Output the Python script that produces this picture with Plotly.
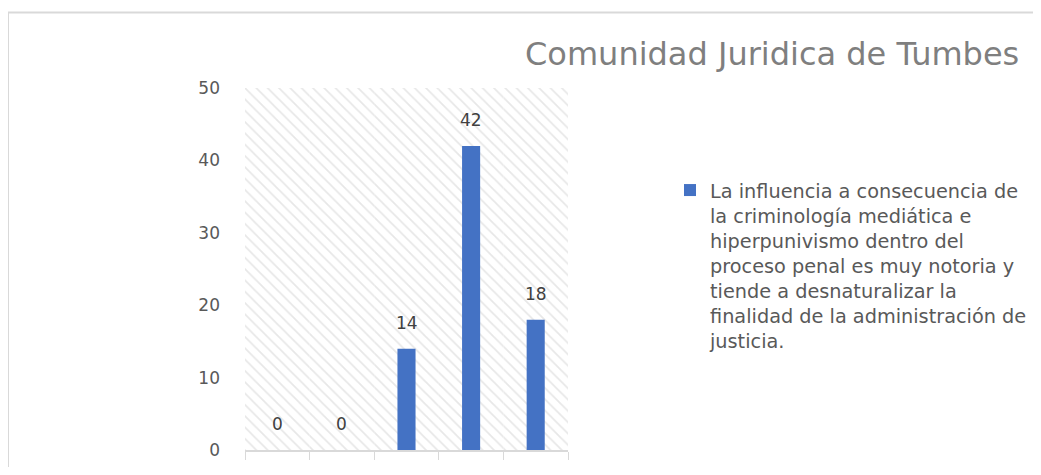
import plotly.graph_objects as go

# data
categories = ["A", "B", "C", "D", "E"]
values = [0, 0, 14, 42, 18]
series_name = ("La influencia a consecuencia de<br>la criminología mediática e<br>"
               "hiperpunivismo dentro del<br>proceso penal es muy notoria y<br>"
               "tiende a desnaturalizar la<br>finalidad de la administración de<br>justicia.")
title_text = "Comunidad Juridica de Tumbes"
y_max = 50

# page body has an 8px margin, so screen coords = figure coords + 8;
# keep the figure short enough that the page does not scroll
OFF = 8
W, H = 1041 - OFF, 475 - 2 * OFF
L, R, T, B = 245 - OFF, W - (568 - OFF), 88 - OFF, H - (450 - OFF)
pw, ph = W - L - R, H - T - B


def px_x(x):
    return (x - OFF - L) / pw


def px_y(y):
    return (H - B - (y - OFF)) / ph


fig = go.Figure()

# hatched plot background
fig.add_trace(go.Bar(
    x=categories, y=[y_max] * len(categories), width=1,
    marker=dict(color="white", line=dict(width=0),
                pattern=dict(shape="\\", fgcolor="#d0d0d0", bgcolor="white",
                             size=8, solidity=0.22)),
    showlegend=False, hoverinfo="skip"
))

fig.add_trace(go.Bar(
    x=categories, y=values, width=0.28,
    marker=dict(color="#4472c4", line=dict(width=0)),
    name=series_name,
    hoverinfo="y"
))

# value labels above the bars
for c, v in zip(categories, values):
    fig.add_annotation(x=c, y=v, text=str(v), showarrow=False,
                       yanchor="middle", yshift=26,
                       font=dict(size=17, color="#404040", family="DejaVu Sans"))

fig.update_layout(
    width=W, height=H,
    margin=dict(l=L, r=R, t=T, b=B, autoexpand=False),
    paper_bgcolor="white", plot_bgcolor="white",
    barmode="overlay",
    title=dict(text=title_text, x=px_x(525), xref="paper", xanchor="left",
               y=1 - (54 - OFF) / H, yref="container", yanchor="middle",
               font=dict(size=32, color="#7f7f7f", family="DejaVu Sans")),
    legend=dict(x=px_x(670), y=px_y(171), xanchor="left", yanchor="top",
                valign="top",
                font=dict(size=19.3, color="#595959", family="DejaVu Sans"),
                bgcolor="rgba(0,0,0,0)", traceorder="normal"),
    showlegend=True,
    xaxis=dict(type="category", showticklabels=False, showgrid=False,
               showline=True, linecolor="#d9d9d9", linewidth=1.5,
               ticks="outside", tickson="boundaries", ticklen=8,
               tickcolor="#d9d9d9", range=[-0.5, 4.5], fixedrange=True),
    yaxis=dict(range=[0, y_max], dtick=10, showgrid=False, zeroline=False,
               showline=False, ticks="", ticklabelstandoff=24,
               tickfont=dict(size=17, color="#595959", family="DejaVu Sans"),
               fixedrange=True),
    shapes=[
        dict(type="line", xref="paper", yref="paper",
             x0=px_x(7), x1=px_x(1045), y0=px_y(12.5), y1=px_y(12.5),
             line=dict(color="#d9d9d9", width=2)),
        dict(type="line", xref="paper", yref="paper",
             x0=px_x(8), x1=px_x(8), y0=px_y(12.5), y1=px_y(480),
             line=dict(color="#d9d9d9", width=2)),
    ],
)

fig.write_html("out.html")
